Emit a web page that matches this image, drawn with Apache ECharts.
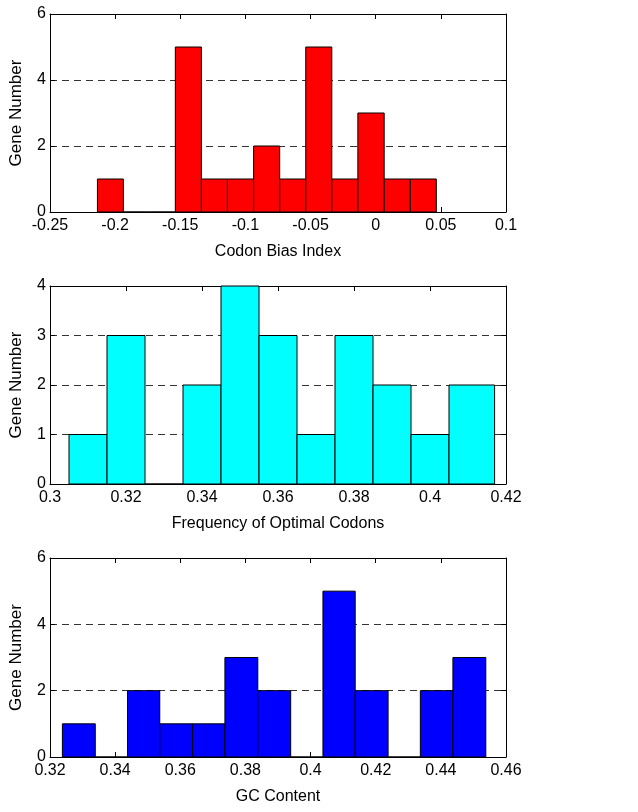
<!DOCTYPE html>
<html>
<head>
<meta charset="utf-8">
<script src="https://cdn.jsdelivr.net/npm/echarts@6/dist/echarts.min.js"></script>
<style>
  html, body { margin: 0; padding: 0; background: #fff; }
  #chart { width: 638px; height: 812px; }
</style>
</head>
<body>
<div id="chart"></div>
<script>
// bin edges and counts
const cbiEdges = [-0.2136, -0.1937, -0.1738, -0.1538, -0.1338, -0.1138, -0.0937, -0.0737, -0.0537, -0.0337, -0.0137, 0.0065, 0.0265, 0.0465]
const cbiCounts = [1, 0, 0, 5, 1, 1, 2, 1, 5, 1, 3, 1, 1]

const fopEdges = [0.305, 0.315, 0.325, 0.335, 0.345, 0.355, 0.365, 0.375, 0.385, 0.395, 0.405, 0.417]
const fopCounts = [1, 3, 0, 2, 4, 3, 1, 3, 2, 1, 2]

const gcEdges = [0.3238, 0.3339, 0.3438, 0.3537, 0.3638, 0.3737, 0.3838, 0.3939, 0.4038, 0.4137, 0.4238, 0.4337, 0.4437, 0.4538]
const gcCounts = [1, 0, 2, 1, 1, 3, 2, 0, 5, 2, 0, 2, 3]

const xTitles = ["Codon Bias Index", "Frequency of Optimal Codons", "GC Content"]
const xRanges = [[-0.25, 0.1, 0.05], [0.3, 0.42, 0.02], [0.32, 0.46, 0.02]]
const yRanges = [[0, 6, 2], [0, 4, 1], [0, 6, 2]]
const barColors = ["#ff0000", "#00ffff", "#0000ff"]

const FONT = "Liberation Sans, Arial, sans-serif"
const grids = [
  { left: 44, top: 14, width: 462, height: 198 },
  { left: 44, top: 286, width: 462, height: 198 },
  { left: 44, top: 558, width: 462, height: 199 }
]

const toBins = (edges, counts) => counts.map((c, i) => [edges[i], edges[i + 1], c])
const hists = [toBins(cbiEdges, cbiCounts), toBins(fopEdges, fopCounts), toBins(gcEdges, gcCounts)]

const lineStyle = { color: "#000", width: 1 }
const tick = { show: true, inside: true, length: 5, lineStyle: lineStyle }

const xAxis = []
const yAxis = []
const series = []

grids.forEach((g, i) => {
  const [xmin, xmax, xint] = xRanges[i]
  const [ymin, ymax, yint] = yRanges[i]
  // bottom axis with labels
  xAxis.push({
    gridIndex: i, type: "value", min: xmin, max: xmax, interval: xint,
    name: xTitles[i], nameLocation: "middle", nameGap: 32,
    nameTextStyle: { fontFamily: FONT, fontSize: 16, color: "#000" },
    axisLine: { show: true, onZero: false, lineStyle: lineStyle },
    axisTick: tick,
    axisLabel: { fontFamily: FONT, fontSize: 16, color: "#000", margin: 6 },
    splitLine: { show: false }
  })
  // top edge of the box
  xAxis.push({
    gridIndex: i, type: "value", position: "top", min: xmin, max: xmax, interval: xint,
    axisLine: { show: true, onZero: false, lineStyle: lineStyle },
    axisTick: tick, axisLabel: { show: false }, splitLine: { show: false }
  })
  yAxis.push({
    gridIndex: i, type: "value", min: ymin, max: ymax, interval: yint,
    name: "Gene Number", nameLocation: "middle", nameGap: 25,
    nameTextStyle: { fontFamily: FONT, fontSize: 17, color: "#000" },
    axisLine: { show: true, onZero: false, lineStyle: lineStyle },
    axisTick: tick,
    axisLabel: { fontFamily: FONT, fontSize: 16, color: "#000", margin: 4 },
    splitLine: { show: true, lineStyle: { color: "#333", type: [7, 5], width: 1 } }
  })
  // right edge of the box
  yAxis.push({
    gridIndex: i, type: "value", position: "right", min: ymin, max: ymax, interval: yint,
    axisLine: { show: true, onZero: false, lineStyle: lineStyle },
    axisTick: tick, axisLabel: { show: false }, splitLine: { show: false }
  })

  series.push({
    type: "custom",
    xAxisIndex: i * 2,
    yAxisIndex: i * 2,
    data: hists[i],
    z: 3,
    renderItem: function (params, api) {
      const p0 = api.coord([api.value(0), 0])
      const p1 = api.coord([api.value(1), api.value(2)])
      return {
        type: "rect",
        shape: { x: p0[0], y: p1[1], width: p1[0] - p0[0], height: p0[1] - p1[1] },
        style: { fill: barColors[i], stroke: "#000", lineWidth: 1 }
      }
    }
  })
})

const chart = echarts.init(document.getElementById("chart"))
chart.setOption({
  animation: false,
  backgroundColor: "#fff",
  grid: grids,
  xAxis: xAxis,
  yAxis: yAxis,
  series: series
})
</script>
</body>
</html>
